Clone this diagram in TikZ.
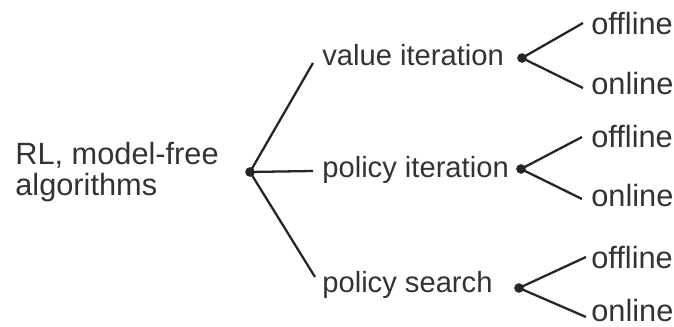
\documentclass[tikz,border=0pt]{standalone}
\usepackage{fontspec}
\setmainfont{Liberation Sans}
\usepackage{tikz}

\begin{document}
\begin{tikzpicture}[x=0.02cm,y=-0.02cm,
        dot/.style={circle,fill=black!85,draw=black!85,inner sep=0pt,minimum size=5pt},
        txt/.style={anchor=west,inner sep=0pt,text=black!80,font=\fontsize{17.5}{18}\selectfont},
        mid/.style={txt,font=\fontsize{16.6}{18}\selectfont},
        branch/.style={line width=1.3pt,draw=black!85}]
                \useasboundingbox (0,0) rectangle (674,327);

                \node[txt,align=left] (rl) at (15, 172) {RL, model-free\\algorithms};
                \node[dot] (root) at (250, 172) {};

                \node[mid] (vi) at (322, 55) {value iteration};
                \node[mid] (pi) at (322, 170) {policy iteration};
                \node[mid] (ps) at (322, 285) {policy search};

                \node[dot] (vidot) at (522, 58) {};
                \node[dot] (pidot) at (521, 169) {};
                \node[dot] (psdot) at (519, 288) {};

                \node[txt] (vioff) at (591, 24) {offline};
                \node[txt] (vion) at (591, 84) {online};
                \node[txt] (pioff) at (591, 137) {offline};
                \node[txt] (pion) at (591, 196) {online};
                \node[txt] (psoff) at (591, 258) {offline};
                \node[txt] (pson) at (591, 311) {online};

                \coordinate (vi-in) at (313, 63);
                \coordinate (pi-in) at (313, 171);
                \coordinate (ps-in) at (315, 277);
                \coordinate (vioff-in) at (583, 23);
                \coordinate (vion-in) at (583, 88);
                \coordinate (pioff-in) at (582, 137);
                \coordinate (pion-in) at (582, 199);
                \coordinate (psoff-in) at (586, 257);
                \coordinate (pson-in) at (586, 317);

                \draw[branch] (root.center) -- (vi-in) (root.center) -- (pi-in) (root.center) -- (ps-in);
                \draw[branch] (vidot.center) -- (vioff-in) (vidot.center) -- (vion-in);
                \draw[branch] (pidot.center) -- (pioff-in) (pidot.center) -- (pion-in);
                \draw[branch] (psdot.center) -- (psoff-in) (psdot.center) -- (pson-in);
            \end{tikzpicture}
\end{document}
